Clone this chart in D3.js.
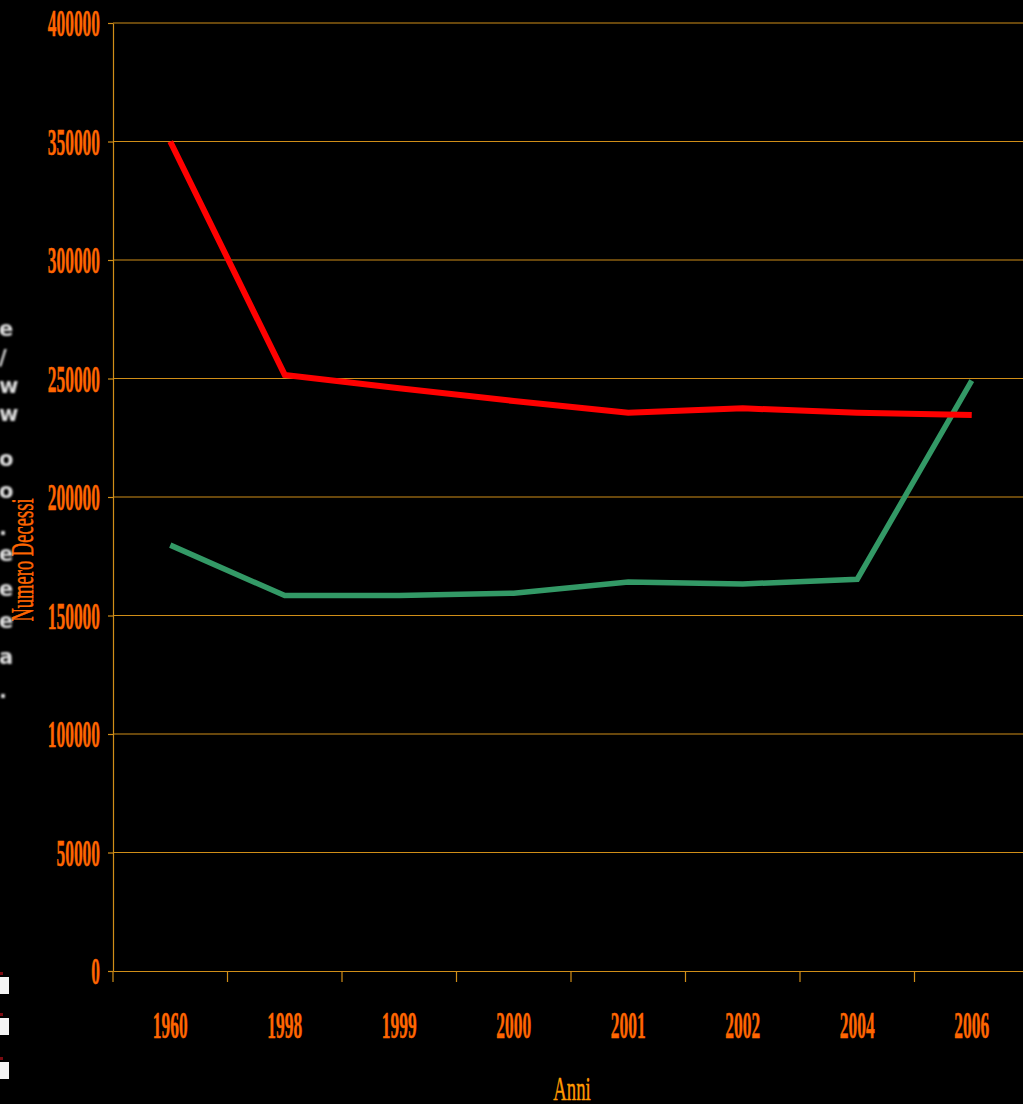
<!DOCTYPE html>
<html>
<head>
<meta charset="utf-8">
<script src="https://cdn.jsdelivr.net/npm/d3@7"></script>
<style>
  html, body { margin: 0; padding: 0; background: #000; overflow: hidden; }
  svg { display: block; }
</style>
</head>
<body>
<div id="main"></div>
<script>
// values
const anni = ["1960", "1998", "1999", "2000", "2001", "2002", "2004", "2006"];
const serieRossa = [350000, 251500, 245900, 240500, 235600, 237400, 235600, 234600];
const serieVerde = [179700, 158400, 158400, 159400, 164100, 163300, 165300, 249100];
const yTicks = [0, 50000, 100000, 150000, 200000, 250000, 300000, 350000, 400000];
const ghostChars = ["e", "/", "w", "w", "o", "o", ".", "e", "e", "e", "a", "."];

const W = 1023, H = 1104;
const cfg = { left: 113, right: 1029, top: 23, bottom: 971 };
const sx = 0.47; // squeeze for the condensed serif look
const gridCol = "#D08E18";

const svg = d3.select("#main").append("svg")
  .attr("width", W).attr("height", H);

svg.append("rect").attr("width", W).attr("height", H).attr("fill", "#000");

const defs = svg.append("defs");
defs.append("filter").attr("id", "blur")
  .append("feGaussianBlur").attr("stdDeviation", 1.3);

const x = d3.scaleBand().domain(anni).range([cfg.left, cfg.right]);
const y = d3.scaleLinear().domain([0, 400000]).range([cfg.bottom, cfg.top]);

// gridlines
svg.append("g")
  .selectAll("line")
  .data(yTicks.filter(d => d > 0))
  .join("line")
  .attr("x1", cfg.left).attr("x2", W)
  .attr("y1", d => y(d)).attr("y2", d => y(d))
  .attr("stroke", gridCol).attr("stroke-width", 1);

function styleLabels(sel) {
  sel.attr("fill", "#FF6600")
    .attr("stroke", "#FF6600")
    .attr("stroke-width", 0.5)
    .attr("font-family", "Liberation Serif")
    .attr("font-weight", "bold")
    .attr("font-size", 37)
    .attr("transform", `scale(${sx},1)`);
}

// y axis
const yAxis = svg.append("g")
  .attr("transform", `translate(${cfg.left},0)`)
  .call(d3.axisLeft(y).tickValues(yTicks).tickFormat(d3.format("d")).tickSize(5).tickSizeOuter(0));
yAxis.select(".domain").attr("stroke", gridCol).attr("stroke-width", 1.2);
yAxis.selectAll(".tick line").attr("stroke", gridCol).attr("stroke-width", 1.2);
yAxis.selectAll(".tick text")
  .call(styleLabels)
  .attr("x", -13 / sx)
  .attr("dy", "0.34em");

// x axis
const xAxis = svg.append("g")
  .attr("transform", `translate(0,${cfg.bottom})`)
  .call(d3.axisBottom(x).tickSize(0).tickSizeOuter(0));
xAxis.select(".domain").attr("stroke", gridCol).attr("stroke-width", 1.2);
xAxis.selectAll(".tick line").remove();
xAxis.selectAll(".tick text")
  .call(styleLabels)
  .attr("y", 67)
  .attr("dy", 0);

// band boundary ticks
svg.append("g")
  .selectAll("line")
  .data(anni)
  .join("line")
  .attr("x1", d => x(d)).attr("x2", d => x(d))
  .attr("y1", cfg.bottom).attr("y2", cfg.bottom + 11)
  .attr("stroke", gridCol).attr("stroke-width", 1.2);

// lines
const line = d3.line()
  .x((d, i) => x(anni[i]) + x.bandwidth() / 2)
  .y(d => y(d));

svg.append("path")
  .datum(serieVerde)
  .attr("fill", "none")
  .attr("stroke", "#339966")
  .attr("stroke-width", 5.5)
  .attr("d", line);

svg.append("path")
  .datum(serieRossa)
  .attr("fill", "none")
  .attr("stroke", "#FF0000")
  .attr("stroke-width", 6)
  .attr("d", line);

// axis titles
svg.append("text")
  .attr("transform", `translate(33,560) rotate(-90) scale(0.58,1)`)
  .attr("text-anchor", "middle")
  .attr("fill", "#FF6600")
  .attr("stroke", "#FF6600")
  .attr("stroke-width", 0.5)
  .attr("font-family", "Liberation Serif")
  .attr("font-size", 32)
  .text("Numero Decessi");

svg.append("text")
  .attr("transform", `translate(572,1100) scale(0.55,1)`)
  .attr("text-anchor", "middle")
  .attr("fill", "#FF9900")
  .attr("stroke", "#FF9900")
  .attr("stroke-width", 0.4)
  .attr("font-family", "Liberation Serif")
  .attr("font-size", 34)
  .text("Anni");

// cut-off legend remnants on the left edge
const ghostY = [328, 357, 385, 413, 458, 490, 527, 553, 588, 620, 656, 690];
svg.append("g")
  .attr("filter", "url(#blur)")
  .selectAll("text")
  .data(ghostChars)
  .join("text")
  .attr("x", -1)
  .attr("y", (d, i) => ghostY[i] + 8)
  .attr("fill", "#e0e0e0")
  .attr("font-family", "DejaVu Sans")
  .attr("font-weight", "bold")
  .attr("font-size", 21)
  .text(d => d);

const legendY = [977, 1018, 1062];
const lg = svg.append("g");
lg.selectAll("rect.sq")
  .data(legendY)
  .join("rect")
  .attr("class", "sq")
  .attr("x", 0).attr("y", d => d)
  .attr("width", 9).attr("height", 17)
  .attr("fill", "#f4f4f4");
lg.selectAll("rect.dot")
  .data(legendY)
  .join("rect")
  .attr("class", "dot")
  .attr("x", 0).attr("y", d => d - 5)
  .attr("width", 3).attr("height", 3)
  .attr("fill", "#7a0a10");
</script>
</body>
</html>
